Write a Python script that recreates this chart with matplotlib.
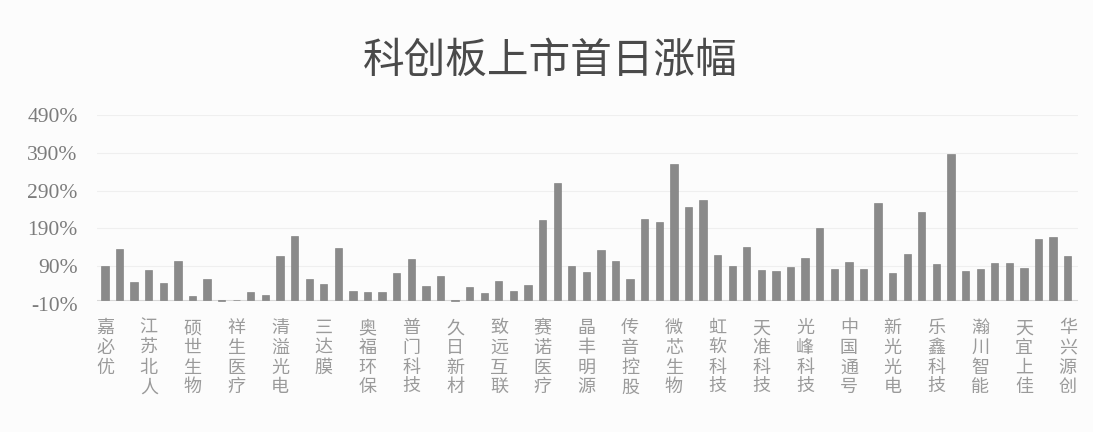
import matplotlib.pyplot as plt
import numpy as np

plt.rcParams['font.family'] = ['Noto Sans CJK SC', 'DejaVu Sans']

# first-day gain (%) of each listing, in chart order
gains = [90, 135, 48, 80, 46, 104, 12, 57, -3, 0,
         22, 15, 117, 170, 56, 44, 137, 25, 22, 22,
         72, 108, 37, 64, -1, 34, 19, 50, 25, 41,
         213, 310, 91, 75, 134, 103, 55, 214, 207, 360,
         247, 265, 119, 91, 141, 79, 78, 88, 111, 192,
         83, 101, 83, 257, 72, 123, 233, 96, 388, 76,
         82, 98, 98, 86, 162, 167, 116]

# only every third bar carries a visible name
names = ['嘉必优', '江苏北人', '硕世生物', '祥生医疗', '清溢光电', '三达膜',
         '奥福环保', '普门科技', '久日新材', '致远互联', '赛诺医疗', '晶丰明源',
         '传音控股', '微芯生物', '虹软科技', '天准科技', '光峰科技', '中国通号',
         '新光光电', '乐鑫科技', '瀚川智能', '天宜上佳', '华兴源创']
label_step = 3

yticks = [-10, 90, 190, 290, 390, 490]

fig = plt.figure(figsize=(10.93, 4.32), dpi=100)
fig.patch.set_facecolor('#fcfcfc')
ax = fig.add_axes([0.0887, 0.2963, 0.8975, 0.4375])
ax.set_facecolor('#fcfcfc')

x = np.arange(len(gains))
ax.bar(x, gains, width=0.5, color='#8a8a8a', edgecolor='#777777', linewidth=0.4, zorder=2)

ax.set_xlim(-0.55, len(gains) - 0.3)
ax.set_ylim(-10, 490)
ax.set_yticks(yticks)
ax.set_yticklabels([f'{v}%' for v in yticks], family=['Liberation Serif'], fontsize=15.5, color='#7c7c7c')
ax.grid(axis='y', color='#efefef', linewidth=0.8, zorder=0)
ax.axhline(0, color='#d8d8d8', linewidth=0.8, zorder=1)

pos = x[::label_step]
ax.set_xticks(pos)
ax.set_xticklabels(['\n'.join(n) for n in names], fontsize=13, color='#9a9a9a',
                   linespacing=1.12, va='top')
ax.tick_params(axis='both', length=0)
ax.tick_params(axis='y', pad=14)
ax.tick_params(axis='x', pad=11)
for s in ax.spines.values():
    s.set_visible(False)

fig.text(0.503, 0.858, '科创板上市首日涨幅', ha='center', va='center', fontsize=30,
         color='#4a4a4a', fontweight='light')

fig.savefig('out.png', dpi=100, facecolor=fig.get_facecolor())
